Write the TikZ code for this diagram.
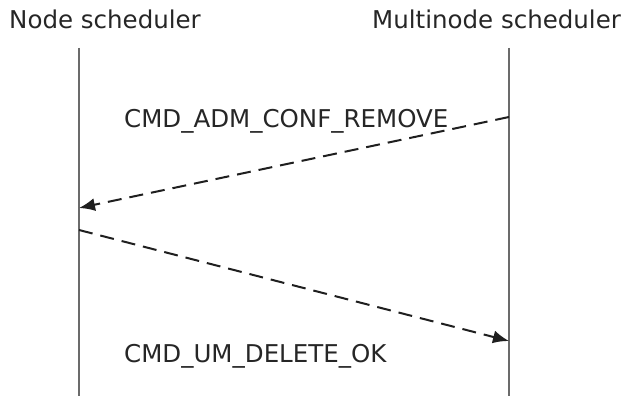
\documentclass[tikz,border=0pt]{standalone}
\usepackage{fontspec}
\setmainfont{DejaVu Sans}
\usetikzlibrary{arrows.meta}
\begin{document}
\begin{tikzpicture}[x=1pt,y=-1pt,
  lifeline/.style={draw=black!58,line width=2.6pt},
  msg/.style={draw=black!88,line width=2pt,dash pattern=on 14pt off 8pt,-{Latex[length=16pt,width=13pt]}},
  title/.style={font=\fontsize{24.5}{28}\selectfont,text=black!85,inner sep=0pt,anchor=base west},
  label/.style={font=\fontsize{24.5}{28}\selectfont,text=black!85,inner sep=0pt,anchor=base west}]
\useasboundingbox[fill=white] (0,0) rectangle (624,396);
% participants
\node[title] (hn) at (9,29) {Node scheduler};
\node[title] (hm) at (372,29) {Multinode scheduler};
\coordinate (ltop) at (79,48);
\coordinate (lbot) at (79,396);
\coordinate (rtop) at (509,48);
\coordinate (rbot) at (509,396);
\draw[lifeline] (ltop) -- (lbot);
\draw[lifeline] (rtop) -- (rbot);
% messages
\coordinate (m1s) at (509,117);
\coordinate (m1e) at (79,208);
\coordinate (m2s) at (79,230);
\coordinate (m2e) at (509,341);
\draw[msg] (m1s) -- (m1e);
\draw[msg] (m2s) -- (m2e);
\node[label] (l1) at (124,127) {CMD\_ADM\_CONF\_REMOVE};
\node[label] (l2) at (124,362) {CMD\_UM\_DELETE\_OK};
\end{tikzpicture}
\end{document}
